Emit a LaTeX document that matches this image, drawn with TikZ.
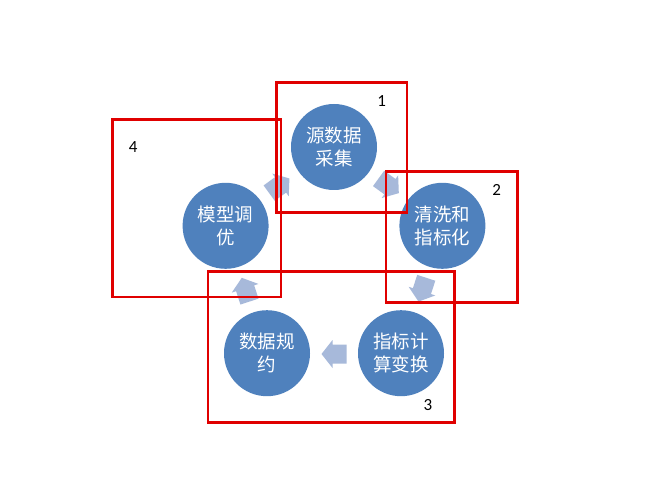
\documentclass[tikz,border=0pt]{standalone}
\usepackage{fontspec}
\setmainfont{Carlito}
\newfontfamily\cjk{Noto Sans CJK SC}
\definecolor{circblue}{RGB}{79,129,189}
\definecolor{arrblue}{RGB}{167,185,218}
\definecolor{boxred}{RGB}{224,0,0}
\tikzset{
  stage/.style={circle, fill=circblue, inner sep=0pt, minimum size=86pt,
    text=white, align=center, font=\cjk\fontsize{18.5}{23}\selectfont},
  redbox/.style={draw=boxred, line width=2.2pt},
  numlabel/.style={font=\fontsize{17}{20}\selectfont, text=black, inner sep=0pt},
  pics/cyclearrow/.style={code={
    \fill[arrblue] (-12.5,-9.5) -- (1.5,-9.5) -- (1.5,-14) -- (12.5,0)
      -- (1.5,14) -- (1.5,9.5) -- (-12.5,9.5) -- cycle;}}
}
\begin{document}
\begin{tikzpicture}[x=1pt,y=-1pt]
\useasboundingbox (0,0) rectangle (667,500);
\fill[white] (0,0) rectangle (667,500);
% stages
\node[stage] (s1) at (334,147) {源数据\\采集};
\node[stage] (s2) at (442.4,225.8) {清洗和\\指标化};
\node[stage] (s3) at (401,353.2) {指标计\\算变换};
\node[stage] (s4) at (267,353.2) {数据规\\约};
\node[stage] (s5) at (225.6,225.8) {模型调\\优};
% arrows
\pic[rotate=-36] (a12) at (388.7,185.8) {cyclearrow};
\pic[rotate=-108] (a23) at (422.4,289.7) {cyclearrow};
\pic[rotate=180] (a34) at (334,354) {cyclearrow};
\pic[rotate=108] (a45) at (245.6,289.7) {cyclearrow};
\pic[rotate=36] (a51) at (279.3,185.8) {cyclearrow};
% red boxes
\draw[redbox] (276.5,82.5) rectangle (407,212.5);
\draw[redbox] (386,171.5) rectangle (517.5,302.5);
\draw[redbox] (208,271.5) rectangle (454.5,422.5);
\draw[redbox] (112.5,119.5) rectangle (281,297);
% numbers
\node[numlabel] (n1) at (381.7,100.7) {1};
\node[numlabel] (n2) at (496.7,190) {2};
\node[numlabel] (n3) at (428,405) {3};
\node[numlabel] (n4) at (133.3,147.3) {4};
\end{tikzpicture}
\end{document}
